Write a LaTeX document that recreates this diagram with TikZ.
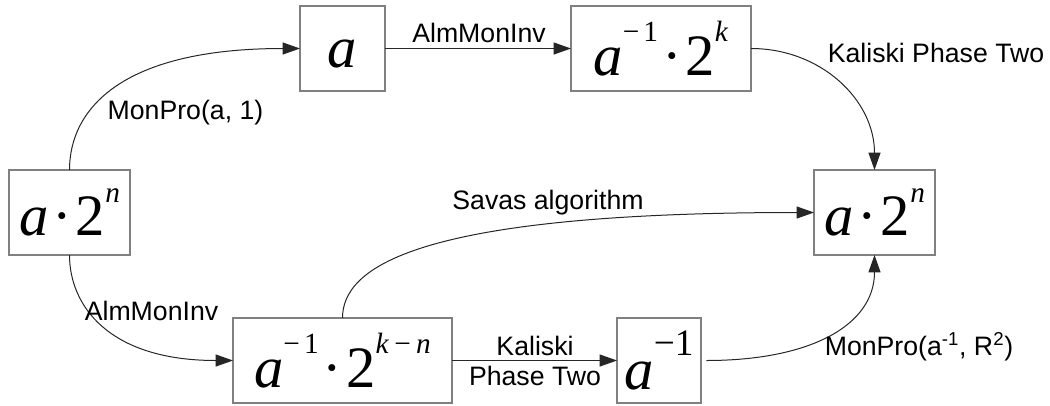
\documentclass[tikz,border=0pt]{standalone}
\usepackage{fontspec}
\setmainfont{Liberation Sans}
\newfontfamily\eqfont{Liberation Serif}
\usetikzlibrary{arrows.meta}

% raised exponent, optional size
\newcommand\sps[2][22]{\raisebox{25pt}{\fontsize{#1}{#1}\selectfont #2}}
% big formula text in the boxes
\newcommand\eqn[1]{{\eqfont\fontsize{44}{44}\selectfont #1}}
\newcommand\md{\hspace{3pt}·\hspace{3pt}}

\tikzset{
  box/.style={draw=black!50, line width=1.2pt, inner sep=0pt, outer sep=0pt, minimum height=63.75pt},
  conn/.style={draw=black!85, line width=0.75pt, -{Triangle[length=13pt,width=9pt]}},
  lbl/.style={font=\fontsize{20}{24}\selectfont, inner sep=0pt},
}

\begin{document}
\begin{tikzpicture}[x=0.75pt,y=0.75pt,yscale=-1,xscale=1]
\useasboundingbox (0,0) rectangle (1050,405);

% Boxes
\node[box, minimum width=90.75pt] (L) at (69.5,212.5) {\eqn{\textit{a}\md 2\sps{\textit{n}}}};
\node[box, minimum width=63.75pt, text height=28pt, text depth=0pt] (A) at (342.5,48.5) {\eqn{\textit{a}}};
\node[box, minimum width=135pt] (K) at (661,48.5) {\eqn{\textit{a}\sps{−\hspace{3pt}1}\md 2\sps{\textit{k}}}};
\node[box, minimum width=90.75pt] (R) at (874.5,212.5) {\eqn{\textit{a}\md 2\sps{\textit{n}}}};
\node[box, minimum width=164.25pt] (B) at (342.5,360.5) {\eqn{\textit{a}\sps{−\hspace{3pt}1}\md 2\sps{\textit{k}\hspace{4pt}−\hspace{4pt}\textit{n}}}};
\node[box, minimum width=63pt] (I) at (659,360.5) {\eqn{\textit{a}\sps[28]{−1}}};

% Connections
\draw[conn] (L.north) .. controls +(0,-60) and +(-180,0) .. (A.west);
\draw[conn] (A.east) -- (K.west);
\draw[conn] (K.east) .. controls +(70,0) and +(0,-70) .. (R.north);
\draw[conn] (L.south) .. controls +(0,50) and +(-125,0) .. (B.west);
\draw[conn] (B.north) .. controls +(0,-50) and +(-400,0) .. (R.west);
\draw[conn] (B.east) -- (I.west);
\draw[conn, shorten <=4pt] (I.east) .. controls +(110,0) and +(0,70) .. (R.south);

% Text Nodes
\node[lbl] (monproA) at (185.5,113) {MonPro(a, 1)};
\node[lbl] (almTop) at (479,33) {AlmMonInv};
\node[lbl] (kalTop) at (936,53) {Kaliski Phase Two};
\node[lbl] (savas) at (548,203) {Savas algorithm};
\node[lbl] (almBot) at (151.5,311) {AlmMonInv};
\node[lbl] (kalBot) at (535,346) {Kaliski};
\node[lbl] (phaseBot) at (535,376) {Phase Two};
\node[lbl] (monproB) at (919,347) {MonPro(a\textsuperscript{-1}, R\textsuperscript{2})};

\end{tikzpicture}
\end{document}
